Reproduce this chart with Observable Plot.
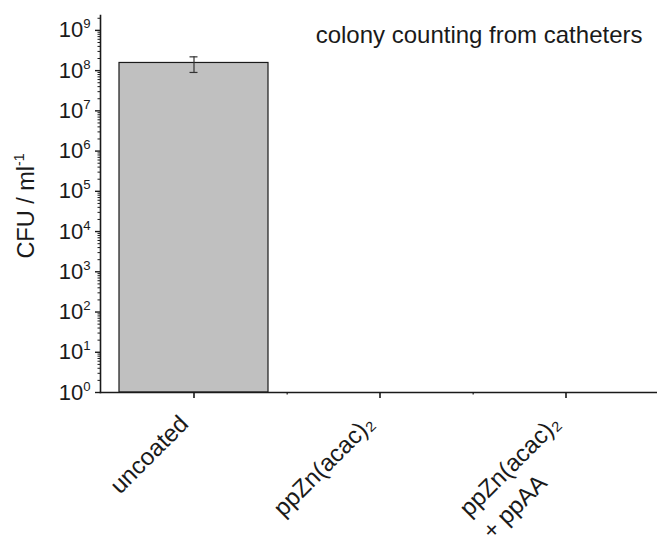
<!DOCTYPE html>
<html><head><meta charset="utf-8">
<script src="https://cdn.jsdelivr.net/npm/d3@7"></script>
<script src="https://cdn.jsdelivr.net/npm/@observablehq/plot@0.6"></script>
<style>html,body{margin:0;padding:0;background:#fff} svg{display:block}</style>
</head><body><div id="chart"></div>
<script>
// ---- data ----
const categories = ["uncoated", "ppZn(acac)\u2082", "ppZn(acac)\u2082\n+ ppAA"];
const cfu = [1.55e8, 0, 0];            // CFU / ml (0 = no colonies)
const errLow = [0.9e8, null, null];
const errHigh = [2.2e8, null, null];
const yTickExponents = [0, 1, 2, 3, 4, 5, 6, 7, 8, 9];
const titleText = "colony counting from catheters";
const yLabel = "CFU / ml^-1";

// ---- derived tables ----
const rows = categories.map((c, i) => ({cat: c, v: cfu[i], lo: errLow[i], hi: errHigh[i]}));
const bars = rows.filter(d => d.v > 0);
const errs = rows.filter(d => d.lo != null);
const yMax = 10 ** 9.37;
const majorTicks = yTickExponents.map(e => 10 ** e);
const minorTicks = [];
for (const e of yTickExponents) for (let m = 2; m <= 9; m++) { const v = m * 10 ** e; if (v <= yMax) minorTicks.push(v); }

const xRange = [100, 659];
const step = (xRange[1] - xRange[0]) / categories.length;
const ink = "#1a1a1a";

const plot = Plot.plot({
  width: 657, height: 542,
  marginLeft: 100, marginRight: 0, marginTop: 15, marginBottom: 150,
  style: {fontFamily: "'Liberation Sans', Arial, Helvetica, sans-serif", color: ink, background: "#fff", overflow: "hidden"},
  x: {domain: categories, range: xRange, paddingInner: 0.2, paddingOuter: 0.1},
  y: {type: "log", domain: [1, yMax]},
  marks: [
    Plot.barY(bars, {x: "cat", y1: 1, y2: "v", fill: "#c0c0c0", stroke: ink, strokeWidth: 1.2}),
    Plot.ruleX(errs, {x: "cat", y1: "lo", y2: "hi", stroke: "#333", strokeWidth: 1.2}),
    Plot.tickY(errs, {x: "cat", y: "lo", insetLeft: 70.5, insetRight: 70.5, stroke: "#333", strokeWidth: 1.2}),
    Plot.tickY(errs, {x: "cat", y: "hi", insetLeft: 70.5, insetRight: 70.5, stroke: "#333", strokeWidth: 1.2}),
    Plot.frame({anchor: "left", stroke: ink, strokeWidth: 1.6}),
    Plot.frame({anchor: "bottom", stroke: ink, strokeWidth: 1.6}),
    Plot.axisY({ticks: majorTicks, tickSize: 5, tickPadding: 5, strokeWidth: 1.4, stroke: ink, fill: ink,
      tickFormat: d => `10^${Math.round(Math.log10(d))}`, fontSize: 22, label: null}),
    Plot.axisY({ticks: minorTicks, tickSize: 2.5, strokeWidth: 1, stroke: ink, fill: "none", label: null}),
    Plot.axisX({tickSize: 6, strokeWidth: 1.6, stroke: ink, fill: "none", label: null}),
    Plot.axisX({ticks: categories.slice(0, -1), tickSize: 2.5, dx: step / 2, strokeWidth: 1.2, stroke: ink, fill: "none", label: null}),
    Plot.text(categories, {x: d => d, text: d => d, frameAnchor: "bottom", rotate: -45, textAnchor: "end",
      lineAnchor: "top", lineHeight: 1.35, fontSize: 24, dx: -20.5, dy: 16.5, fill: ink}),
    Plot.text([titleText], {text: d => d, frameAnchor: "top-right", textAnchor: "end", lineAnchor: "bottom",
      dx: -15, dy: 27, fontSize: 24, fill: ink}),
    Plot.text([yLabel], {text: d => d, frameAnchor: "left", rotate: -90, textAnchor: "middle", lineAnchor: "bottom",
      dx: -67, dy: 2, fontSize: 23.5, fill: ink})
  ]
});
document.getElementById("chart").appendChild(plot);

// ---- rich text: ^x superscript ----
const NS = "http://www.w3.org/2000/svg";
function richify(textEl) {
  const nodes = [];
  (function collect(n) { for (const c of Array.from(n.childNodes)) { if (c.nodeType === 3) nodes.push(c); else collect(c); } })(textEl);
  for (const tn of nodes) {
    const s = tn.nodeValue;
    if (!/\^/.test(s)) continue;
    const host = tn.parentNode;
    const fs = parseFloat(getComputedStyle(host).fontSize);
    const re = /\^([-\d]+)/g;
    const frag = document.createDocumentFragment();
    let last = 0, m;
    while ((m = re.exec(s))) {
      if (m.index > last) frag.appendChild(document.createTextNode(s.slice(last, m.index)));
      const t = document.createElementNS(NS, "tspan");
      t.textContent = m[1];
      t.setAttribute("font-size", 0.6 * fs);
      t.setAttribute("baseline-shift", 0.41 * fs);
      frag.appendChild(t);
      last = re.lastIndex;
    }
    if (last < s.length) frag.appendChild(document.createTextNode(s.slice(last)));
    host.replaceChild(frag, tn);
  }
}
plot.querySelectorAll("text").forEach(richify);

// multi-line labels: lines left-aligned, block right edge at the anchor
plot.querySelectorAll("text").forEach(t => {
  const lines = Array.from(t.children).filter(c => c.tagName === "tspan" && c.hasAttribute("x"));
  if (lines.length < 2) return;
  const w = Math.max(...lines.map(l => l.getComputedTextLength()));
  t.setAttribute("text-anchor", "start");
  lines.forEach(l => { l.setAttribute("x", -w); l.setAttribute("text-anchor", "start"); });
});
</script>
</body></html>
